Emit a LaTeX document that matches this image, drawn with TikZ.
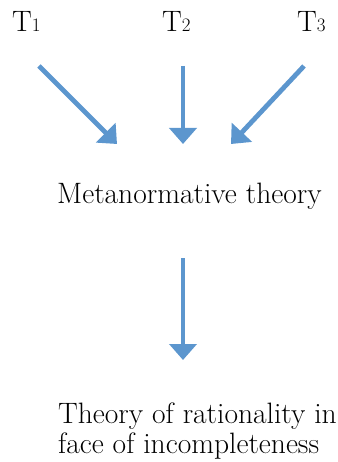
\documentclass[tikz,border=0pt]{standalone}
\usetikzlibrary{arrows.meta}
\definecolor{arrowblue}{RGB}{92,150,206}
\begin{document}
\begin{tikzpicture}[x=1pt,y=-1pt,
  lbl/.style={anchor=base west, inner sep=0pt, font=\fontsize{29.5}{30}\selectfont},
  tlbl/.style={anchor=base west, inner sep=0pt, font=\fontsize{29.5}{30}\selectfont},
  arr/.style={draw=arrowblue, line width=4.8pt, -{Triangle[length=16pt,width=27pt]}}]
\useasboundingbox (0,0) rectangle (337,462);
\node[tlbl] (t1) at (12,32) {T{\fontsize{19}{19}\selectfont 1}};
\node[tlbl] (t2) at (162,32) {T{\fontsize{19}{19}\selectfont 2}};
\node[tlbl] (t3) at (297,32) {T{\fontsize{19}{19}\selectfont 3}};
\node[lbl] (meta) at (57,203) {Metanormative theory};
\node[lbl, align=left] (rat) at (58,453) {Theory of rationality in\\face of incompleteness};
\coordinate (a1s) at (39,66);
\coordinate (a1e) at (117,144);
\coordinate (a2s) at (183,66);
\coordinate (a2e) at (183,144);
\coordinate (a3s) at (304,66);
\coordinate (a3e) at (231,144);
\coordinate (a4s) at (183,258);
\coordinate (a4e) at (183,360);
\draw[arr] (a1s) -- (a1e);
\draw[arr] (a2s) -- (a2e);
\draw[arr] (a3s) -- (a3e);
\draw[arr] (a4s) -- (a4e);
\end{tikzpicture}
\end{document}
